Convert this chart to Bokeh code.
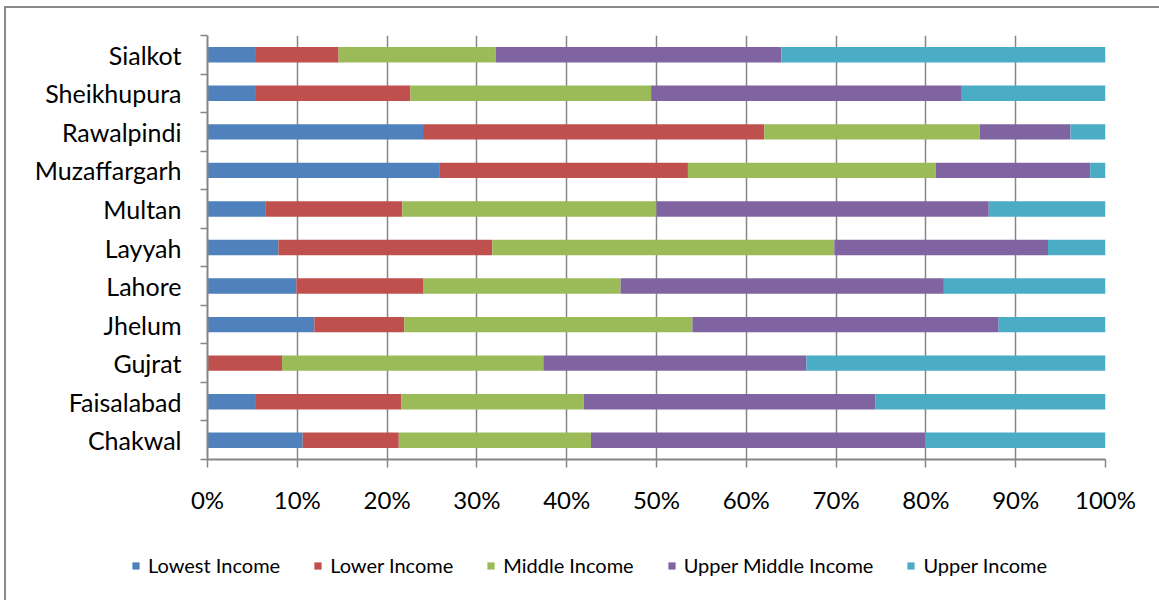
from bokeh.plotting import figure
from bokeh.layouts import column
from bokeh.models import (Range1d, FixedTicker, PrintfTickFormatter, Legend, LegendItem,
                          ColumnDataSource)
from bokeh.embed import file_html
from bokeh.resources import INLINE

# ---- data (bottom to top) ----
cities = ["Chakwal", "Faisalabad", "Gujrat", "Jhelum", "Lahore", "Layyah",
          "Multan", "Muzaffargarh", "Rawalpindi", "Sheikhupura", "Sialkot"]
lowest_income = [10.6, 5.3, 0.0, 11.9, 9.9, 7.9, 6.5, 25.8, 24.0, 5.3, 5.3]
lower_income = [10.7, 16.3, 8.3, 10.0, 14.1, 23.8, 15.2, 27.7, 38.0, 17.3, 9.3]
middle_income = [21.4, 20.3, 29.1, 32.1, 22.0, 38.1, 28.3, 27.6, 24.0, 26.8, 17.5]
upper_middle_income = [37.2, 32.5, 29.3, 34.1, 36.0, 23.8, 37.0, 17.2, 10.1, 34.6, 31.8]
upper_income = [20.1, 25.6, 33.3, 11.9, 18.0, 6.4, 13.0, 1.7, 3.9, 16.0, 36.1]
x_ticks = [0, 10, 20, 30, 40, 50, 60, 70, 80, 90, 100]

series_names = ["Lowest Income", "Lower Income", "Middle Income",
                "Upper Middle Income", "Upper Income"]
series_values = [lowest_income, lower_income, middle_income,
                 upper_middle_income, upper_income]
colors = ["#4F81BD", "#C0504D", "#9BBB59", "#8064A2", "#4BACC6"]

# normalise each row to 100 % (100 % stacked bar)
keys = ["s%d" % i for i in range(len(series_names))]
totals = [sum(v[j] for v in series_values) for j in range(len(cities))]
data = {"y": [j + 0.5 for j in range(len(cities))]}
for k, vals in zip(keys, series_values):
    data[k] = [100.0 * vals[j] / totals[j] for j in range(len(cities))]
source = ColumnDataSource(data)

FONT = "Lato"
GRID = "#868686"
W = 1153

p = figure(width=W, height=531, output_backend="svg", toolbar_location=None,
           x_range=Range1d(0, 100), y_range=Range1d(0, len(cities)),
           min_border_left=201, min_border_top=27, min_border_right=54,
           min_border_bottom=80)
p.outline_line_color = None
p.background_fill_color = "white"

p.hbar_stack(keys, y="y", height=0.4, color=colors, source=source, line_color=None)

# grid
p.ygrid.grid_line_color = None
p.xgrid.grid_line_color = GRID
p.xgrid.grid_line_width = 1.5
p.xgrid.ticker = FixedTicker(ticks=x_ticks)

# x axis
xa = p.xaxis[0]
xa.ticker = FixedTicker(ticks=x_ticks)
xa.formatter = PrintfTickFormatter(format="%d%%")
xa.axis_line_color = GRID
xa.axis_line_width = 2
xa.major_tick_line_color = GRID
xa.major_tick_line_width = 1.5
xa.major_tick_out = 8
xa.major_tick_in = 0
xa.minor_tick_line_color = None
xa.major_label_text_font = FONT
xa.major_label_text_font_size = "24px"
xa.major_label_text_color = "#000000"
xa.major_label_standoff = 17

# y axis (category labels centred, ticks between categories)
ya = p.yaxis[0]
centres = [j + 0.5 for j in range(len(cities))]
ya.ticker = FixedTicker(ticks=centres, minor_ticks=list(range(len(cities) + 1)))
ya.major_label_overrides = {c: name for c, name in zip(centres, cities)}
ya.axis_line_color = GRID
ya.axis_line_width = 2
ya.major_tick_line_color = None
ya.major_tick_out = 0
ya.major_tick_in = 0
ya.minor_tick_line_color = GRID
ya.minor_tick_line_width = 1.5
ya.minor_tick_out = 7
ya.minor_tick_in = 0
ya.major_label_text_font = FONT
ya.major_label_text_font_size = "25px"
ya.major_label_text_color = "#000000"
ya.major_label_standoff = 19

# legend strip below the chart
p2 = figure(width=W, height=61, output_backend="svg", toolbar_location=None,
            x_range=Range1d(0, 100), y_range=Range1d(100, 101), min_border=0)
p2.frame_align = False
p2.axis.visible = False
p2.grid.grid_line_color = None
p2.outline_line_color = None
leg_renderers = p2.hbar_stack(keys, y="y", height=0.4, color=colors, source=source,
                              line_color=None)
legend = Legend(items=[LegendItem(label=n, renderers=[r])
                       for n, r in zip(series_names, leg_renderers)],
                orientation="horizontal", location=(125, 23),
                glyph_width=9, glyph_height=9, label_standoff=8, spacing=33,
                label_text_font=FONT, label_text_font_size="20px",
                label_text_color="#000000", border_line_color=None,
                background_fill_alpha=0, padding=0, margin=0)
p2.add_layout(legend, "center")

layout = column(p, p2, spacing=0)
layout.styles = {"margin-left": "4px", "margin-top": "6px",
                 "border-left": "2px solid #8a8a8a", "border-top": "2px solid #8a8a8a"}

open("out.html", "w").write(file_html(layout, INLINE))
